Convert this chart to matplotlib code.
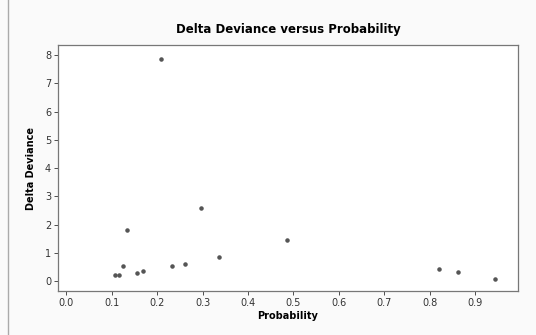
import numpy as np
import matplotlib.pyplot as plt

probability = [0.108, 0.116, 0.125, 0.133, 0.155, 0.170, 0.209, 0.233,
               0.262, 0.297, 0.336, 0.485, 0.820, 0.861, 0.943]
delta_deviance = [0.22, 0.22, 0.54, 1.80, 0.30, 0.35, 7.88, 0.52,
                  0.60, 2.60, 0.85, 1.46, 0.43, 0.32, 0.07]

x_ticks = np.arange(0, 1.0, 0.1)
y_ticks = np.arange(0, 9, 1)

fig = plt.figure(figsize=(5.36, 3.35), dpi=100, facecolor="#fafafa")
ax = fig.add_axes([58 / 536, 1 - 291 / 335, 460 / 536, 246 / 335])
ax.set_facecolor("white")

ax.scatter(probability, delta_deviance, s=5, color="#555555", zorder=3)

ax.set_xlim(-0.018, 0.994)
ax.set_ylim(-0.35, 8.36)
ax.set_xticks(x_ticks)
ax.set_xticklabels([f"{t:.1f}" for t in x_ticks])
ax.set_yticks(y_ticks)

ax.tick_params(labelsize=7, length=3, width=0.6, colors="#333333", pad=2)
for s in ax.spines.values():
    s.set_color("#777777")
    s.set_linewidth(0.9)

ax.set_title("Delta Deviance versus Probability", fontsize=8.5,
             fontweight="bold", pad=9)
ax.set_xlabel("Probability", fontsize=7, fontweight="bold", labelpad=2)
ax.set_ylabel("Delta Deviance", fontsize=7, fontweight="bold", labelpad=6)

# faint vertical line at the left edge of the scan
fig.add_artist(plt.Line2D([8 / 536, 8 / 536], [0, 1], color="#aaaaaa", lw=1))

fig.savefig("out.png", dpi=100, facecolor=fig.get_facecolor())
